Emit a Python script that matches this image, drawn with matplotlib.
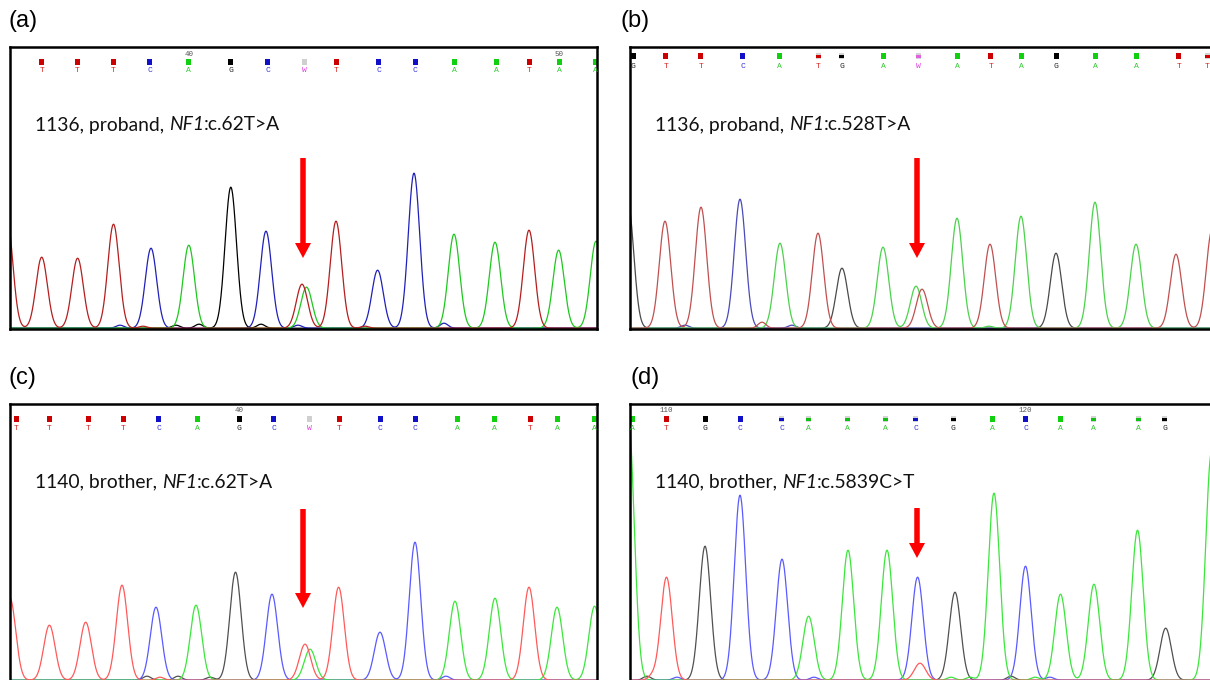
import numpy as np
import matplotlib
matplotlib.use("Agg")
import matplotlib.pyplot as plt
from matplotlib.patches import Rectangle

# ---------------- data (scan positions / signal heights) ----------------
# panel (a) 1136 proband c.62T>A
a_peak_pos = [-3, 31.7, 67.6, 103.5, 141, 178.8, 220.8, 256, 292, 296.5, 326, 367.6, 404, 444, 485, 519, 548.6, 586]
a_peak_hgt = [110, 71, 70, 104, 80, 83, 141, 97, 44, 41, 107, 58, 155, 94, 86, 98, 78, 87]
a_peak_ch = "TTTTCAGCTATCCAATAA"
a_bump_pos = [110, 133, 166, 189, 251, 288, 355, 434]
a_bump_hgt = [3, 2, 3, 4, 4, 3, 2, 5]
a_bump_ch = "CTGGGCTC"
a_call_pos = [31.7, 67.6, 103.5, 139.8, 178.8, 220.8, 257.5, 294, 326, 368.7, 405, 444, 486.5, 519, 549, 585]
a_calls = "TTTCAGCWTCCAATAA"
a_call_q = [1] * 16
a_num_pos = [178.8, 549]
a_num_lbl = ["40", "50"]

# panel (b) 1136 proband c.528T>A
b_peak_pos = [-2, 35, 71, 110, 150, 188, 212, 253, 286, 292, 327, 360, 391, 426, 465, 506, 546, 582]
b_peak_hgt = [125, 107, 121, 129, 85, 95, 60, 81, 42, 39, 110, 84, 112, 75, 126, 84, 74, 98]
b_peak_ch = "GTTCATGAATATAGAATT"
b_bump_pos = [55, 132, 162, 359]
b_bump_hgt = [3, 6, 3, 2]
b_bump_ch = "CTCA"
b_call_pos = [3, 35.7, 70.7, 112.8, 149, 188, 211.7, 253.8, 288.7, 327.8, 360.9, 391, 426, 465, 506.8, 548.9, 577]
b_calls = "GTTCATGAWATAGAATT"
b_call_q = [1, 1, 1, 1, 1, 0.5, 0.5, 1, 0.5, 1, 1, 1, 1, 1, 1, 1, 0.5]
b_num_pos = []
b_num_lbl = []

# panel (c) 1140 brother c.62T>A
c_peak_pos = [0, 39.4, 75.7, 112, 146, 186, 225.5, 262, 295, 300, 328.6, 370, 405, 445, 485, 519, 547, 584.6]
c_peak_hgt = [82, 55, 58, 95, 73, 75, 108, 86, 36, 31, 93, 48, 138, 79, 82, 93, 73, 74]
c_peak_ch = "TTTTCAGCTATCCAATAA"
c_bump_pos = [137, 150, 168, 200, 436]
c_bump_hgt = [4, 3, 4, 3, 4]
c_bump_ch = "GTGGC"
c_call_pos = [6.6, 39.4, 78, 113, 148.6, 187, 229, 263.7, 299, 329, 370, 405, 447, 484.5, 520, 547, 584]
c_calls = "TTTTCAGCWTCCAATAA"
c_call_q = [1] * 17
c_num_pos = [229, 589]
c_num_lbl = ["40", "50"]

# panel (d) 1140 brother c.5839C>T
d_peak_pos = [-1.5, 36.5, 75, 110, 152, 178.6, 218, 257, 287.6, 290, 325, 364, 395.5, 430.5, 464, 507.5, 535.7, 581.5]
d_peak_hgt = [260, 103, 134, 185, 121, 64, 130, 130, 103, 17, 88, 187, 114, 86, 96, 150, 52, 228]
d_peak_ch = "ATGCCAAACTGACAAAGA"
d_bump_pos = [17, 22, 47, 184, 321, 340, 381, 405, 420]
d_bump_hgt = [4, 4, 3, 3, 3, 3, 4, 3, 3]
d_bump_ch = "GTCCAAGAC"
d_call_pos = [2, 36.5, 75, 110, 151.5, 178.6, 217, 255.6, 285.7, 323, 362.8, 395.5, 430.5, 463.5, 508.6, 534.6]
d_calls = "ATGCCAAACGACAAAG"
d_call_q = [1, 1, 1, 1, 0.5, 0.5, 0.5, 0.5, 0.5, 0.5, 1, 1, 1, 0.5, 0.5, 0.5]
d_num_pos = [36.5, 395.5]
d_num_lbl = ["110", "120"]

labels = ["(a)", "(b)", "(c)", "(d)"]
# title pieces: (before, italic gene, after)
titles = [("1136, proband, ", "NF1", ":c.62T>A"),
          ("1136, proband, ", "NF1", ":c.528T>A"),
          ("1140, brother, ", "NF1", ":c.62T>A"),
          ("1140, brother, ", "NF1", ":c.5839C>T")]

# ---------------- styling ----------------
W, H = 1210, 680
sigma = 5.7
dark = {"A": "#1ec81e", "C": "#2020b8", "G": "#000000", "T": "#b41e1e"}
soft = {"A": "#4cd24c", "C": "#4a4ab8", "G": "#4a4a4a", "T": "#c05050"}
light = {"A": "#3ce63c", "C": "#5a5aff", "G": "#505050", "T": "#ff5a5a"}
call_col = {"A": "#10c010", "C": "#1010c8", "G": "#000000", "T": "#cc0000", "W": "#e020e0"}
sq_col = {"A": "#10d010", "C": "#1010c8", "G": "#000000", "T": "#cc0000", "W": "#cfcfcf"}
title_font = "Lato"
title_size = 13.9

fig = plt.figure(figsize=(W / 100, H / 100), dpi=100)
renderer = fig.canvas.get_renderer()


def panel(box, peaks, bumps, calls, nums, cols, label, title, arrow, rows, bottom_spine=True):
    left, top, right, bottom = box
    w, h = right - left, bottom - top
    ax = fig.add_axes([left / W, 1 - bottom / H, w / W, h / H])
    ax.set_xlim(0, w)
    ax.set_ylim(0, h)
    ax.set_xticks([])
    ax.set_yticks([])
    for s in ax.spines.values():
        s.set_linewidth(1.8)
    if not bottom_spine:
        ax.spines["bottom"].set_visible(False)

    x = np.linspace(-20, w + 20, 3000)
    pos, hgt, ch = peaks
    bpos, bhgt, bch = bumps
    for base in "GCAT":
        y = np.zeros_like(x)
        for p, hh, c in zip(pos, hgt, ch):
            if c == base:
                y += hh * np.exp(-(x - p) ** 2 / (2 * sigma ** 2))
        for p, hh, c in zip(bpos, bhgt, bch):
            if c == base:
                y += hh * np.exp(-(x - p) ** 2 / (2 * 4.0 ** 2))
        ax.plot(x, y + 0.8, color=cols[base], lw=0.9)

    num_y, sq_y, let_y = rows
    cpos, cseq, cq = calls
    for p, c, q in zip(cpos, cseq, cq):
        if q < 1:
            ax.add_patch(Rectangle((p - 2.5, h - sq_y - 3), 5, 6, color="#d4d4d4", lw=0))
            ax.add_patch(Rectangle((p - 2.5, h - sq_y - 1.5), 5, 2.5,
                                   color=call_col[c] if c != "W" else "#e060e0", lw=0))
        else:
            ax.add_patch(Rectangle((p - 2.5, h - sq_y - 3), 5, 6, color=sq_col[c], lw=0))
        ax.text(p, h - let_y, c, ha="center", va="center", fontsize=5.8,
                family="Liberation Mono", color=call_col[c], alpha=0.85)
    npos, nlbl = nums
    for p, t in zip(npos, nlbl):
        ax.text(p, h - num_y, t, ha="center", va="center", fontsize=5.4,
                family="Liberation Mono", color="#555555", clip_on=True)

    # title made of three pieces, gene name in italics
    tx = 25
    for piece, style in zip(title, ["normal", "italic", "normal"]):
        t = ax.text(tx, h - 78, piece, ha="left", va="center", fontsize=title_size,
                    family=title_font, style=style, color="#111111")
        bb = t.get_window_extent(renderer=renderer)
        tx += bb.width

    ax_x, ay0, ay1 = arrow
    ax.arrow(ax_x, ay0, 0, ay1 - ay0, width=5.5, head_width=16, head_length=15,
             length_includes_head=True, color="#ff0000", lw=0)

    fig.text(label[1] / W, 1 - label[2] / H, label[0], ha="left", va="center",
             fontsize=17, family="Liberation Sans")


panel((10, 47, 597, 329), (a_peak_pos, a_peak_hgt, a_peak_ch), (a_bump_pos, a_bump_hgt, a_bump_ch),
      (a_call_pos, a_calls, a_call_q), (a_num_pos, a_num_lbl), dark,
      (labels[0], 8, 21), titles[0], (293, 171, 71), (7, 15, 24))
panel((630, 47, 1212, 329), (b_peak_pos, b_peak_hgt, b_peak_ch), (b_bump_pos, b_bump_hgt, b_bump_ch),
      (b_call_pos, b_calls, b_call_q), (b_num_pos, b_num_lbl), soft,
      (labels[1], 620, 21), titles[1], (287, 171, 71), (3, 9, 19))
panel((10, 404, 597, 681), (c_peak_pos, c_peak_hgt, c_peak_ch), (c_bump_pos, c_bump_hgt, c_bump_ch),
      (c_call_pos, c_calls, c_call_q), (c_num_pos, c_num_lbl), light,
      (labels[2], 8, 378), titles[2], (293, 172, 73), (7, 15, 24), bottom_spine=False)
panel((630, 404, 1212, 681), (d_peak_pos, d_peak_hgt, d_peak_ch), (d_bump_pos, d_bump_hgt, d_bump_ch),
      (d_call_pos, d_calls, d_call_q), (d_num_pos, d_num_lbl), light,
      (labels[3], 630, 378), titles[3], (287, 173, 123), (6, 15, 25), bottom_spine=False)

fig.savefig("out.png", dpi=100)
